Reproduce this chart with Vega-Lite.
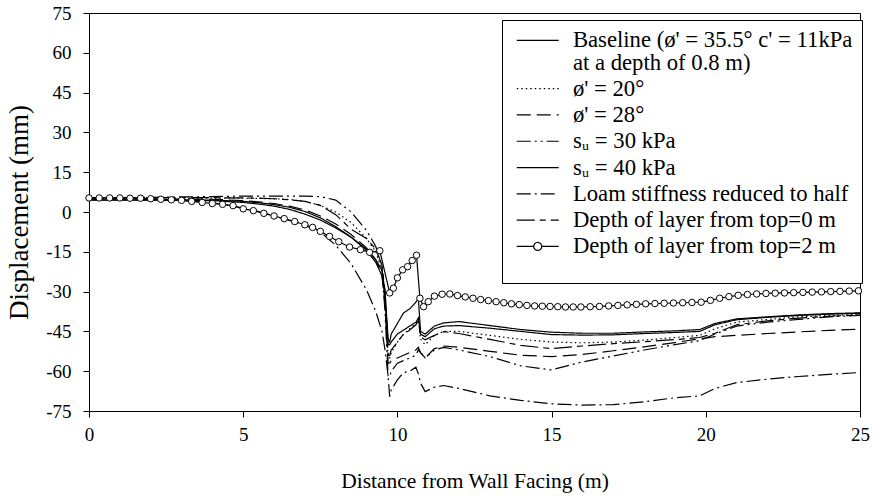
{
  "$schema": "https://vega.github.io/schema/vega-lite/v6.json",
  "width": 771,
  "height": 398,
  "autosize": "none",
  "padding": {"left": 89, "top": 13, "right": 14, "bottom": 85},
  "background": "white",
  "datasets": {
    "curves": [
      {"x": 0, "base": 4.5, "phi20": 5.2, "phi28": 5.0, "su30": 5.3, "su40": 4.6, "loam": 4.8, "d0": 5.3},
      {"x": 1, "base": 4.5, "phi20": 5.2, "phi28": 5.0, "su30": 5.4, "su40": 4.6, "loam": 4.8, "d0": 5.3},
      {"x": 2, "base": 4.5, "phi20": 5.2, "phi28": 5.0, "su30": 5.5, "su40": 4.6, "loam": 4.7, "d0": 5.4},
      {"x": 3, "base": 4.4, "phi20": 5.2, "phi28": 4.9, "su30": 5.7, "su40": 4.6, "loam": 4.4, "d0": 5.4},
      {"x": 4, "base": 4.3, "phi20": 5.2, "phi28": 4.8, "su30": 5.8, "su40": 4.5, "loam": 3.5, "d0": 5.4},
      {"x": 5, "base": 3.6, "phi20": 5.2, "phi28": 4.3, "su30": 6.0, "su40": 4.0, "loam": 1.5, "d0": 5.3},
      {"x": 5.5, "base": 3.0, "phi20": 5.1, "phi28": 3.8, "su30": 6.0, "su40": 3.5, "loam": 0.2, "d0": 5.2},
      {"x": 6, "base": 2.2, "phi20": 5.0, "phi28": 3.2, "su30": 6.0, "su40": 2.8, "loam": -1.5, "d0": 5.0},
      {"x": 6.5, "base": 1.0, "phi20": 4.7, "phi28": 2.2, "su30": 6.0, "su40": 1.8, "loam": -3.2, "d0": 4.6},
      {"x": 7, "base": -0.8, "phi20": 4.0, "phi28": 0.8, "su30": 6.0, "su40": 0.2, "loam": -5.0, "d0": 4.0},
      {"x": 7.5, "base": -3.0, "phi20": 2.5, "phi28": -1.5, "su30": 5.8, "su40": -2.2, "loam": -7.5, "d0": 2.5},
      {"x": 8, "base": -6.0, "phi20": 0.0, "phi28": -4.5, "su30": 4.5, "su40": -5.5, "loam": -12.5, "d0": -1.0},
      {"x": 8.5, "base": -9.5, "phi20": -4.0, "phi28": -8.5, "su30": 0.0, "su40": -9.5, "loam": -19.5, "d0": -6.5},
      {"x": 9, "base": -14.0, "phi20": -10.0, "phi28": -13.5, "su30": -7.0, "su40": -14.5, "loam": -29.4, "d0": -10.0},
      {"x": 9.3, "base": -18.0, "phi20": -15.0, "phi28": -18.0, "su30": -13.0, "su40": -19.0, "loam": -37.5, "d0": -14.0},
      {"x": 9.5, "base": -22.0, "phi20": -22.0, "phi28": -24.0, "su30": -21.0, "su40": -24.0, "loam": -45.0, "d0": -20.0},
      {"x": 9.6, "base": -30.0, "phi20": -35.0, "phi28": -35.0, "su30": -38.0, "su40": -32.0, "loam": -52.0, "d0": -30.0},
      {"x": 9.7, "base": -48.0, "phi20": -55.0, "phi28": -57.0, "su30": -62.0, "su40": -50.0, "loam": -62.0, "d0": -54.0},
      {"x": 9.75, "base": -49.0, "phi20": -55.0, "phi28": -57.0, "su30": -62.0, "su40": -50.0, "loam": -69.6, "d0": -54.0},
      {"x": 9.8, "base": -46.0, "phi20": -53.0, "phi28": -56.0, "su30": -60.0, "su40": -49.0, "loam": -67.0, "d0": -52.0},
      {"x": 10, "base": -42.0, "phi20": -49.0, "phi28": -55.0, "su30": -57.0, "su40": -46.0, "loam": -63.3, "d0": -49.0},
      {"x": 10.2, "base": -38.0, "phi20": -46.0, "phi28": -54.0, "su30": -56.0, "su40": -44.5, "loam": -60.5, "d0": -46.0},
      {"x": 10.4, "base": -36.5, "phi20": -44.0, "phi28": -53.0, "su30": -55.0, "su40": -43.0, "loam": -60.0, "d0": -44.5},
      {"x": 10.6, "base": -34.0, "phi20": -42.0, "phi28": -52.0, "su30": -54.0, "su40": -41.5, "loam": -58.5, "d0": -42.5},
      {"x": 10.68, "base": -32.5, "phi20": -40.0, "phi28": -51.0, "su30": -52.0, "su40": -40.0, "loam": -61.0, "d0": -41.0},
      {"x": 10.75, "base": -45.0, "phi20": -48.0, "phi28": -53.0, "su30": -53.0, "su40": -46.0, "loam": -64.5, "d0": -47.0},
      {"x": 10.9, "base": -46.0, "phi20": -50.0, "phi28": -55.0, "su30": -55.0, "su40": -47.0, "loam": -67.7, "d0": -48.2},
      {"x": 11.2, "base": -43.0, "phi20": -46.5, "phi28": -51.5, "su30": -52.0, "su40": -44.0, "loam": -66.0, "d0": -46.5},
      {"x": 11.5, "base": -41.8, "phi20": -45.0, "phi28": -50.5, "su30": -51.0, "su40": -43.0, "loam": -65.4, "d0": -45.1},
      {"x": 12, "base": -41.3, "phi20": -45.0, "phi28": -51.0, "su30": -52.0, "su40": -42.8, "loam": -66.5, "d0": -45.8},
      {"x": 13, "base": -42.8, "phi20": -46.5, "phi28": -52.5, "su30": -54.5, "su40": -43.8, "loam": -69.3, "d0": -48.0},
      {"x": 14, "base": -44.3, "phi20": -48.0, "phi28": -54.0, "su30": -58.0, "su40": -45.0, "loam": -71.0, "d0": -50.3},
      {"x": 15, "base": -45.3, "phi20": -49.0, "phi28": -54.5, "su30": -59.5, "su40": -46.2, "loam": -72.3, "d0": -51.5},
      {"x": 16, "base": -45.7, "phi20": -49.3, "phi28": -53.7, "su30": -56.5, "su40": -46.4, "loam": -72.8, "d0": -50.5},
      {"x": 17, "base": -45.7, "phi20": -49.0, "phi28": -52.3, "su30": -54.3, "su40": -46.3, "loam": -72.6, "d0": -49.6},
      {"x": 18, "base": -45.2, "phi20": -48.3, "phi28": -50.8, "su30": -52.0, "su40": -45.8, "loam": -71.5, "d0": -48.9},
      {"x": 19, "base": -44.8, "phi20": -47.3, "phi28": -49.2, "su30": -50.0, "su40": -45.4, "loam": -70.0, "d0": -48.1},
      {"x": 19.8, "base": -44.3, "phi20": -46.5, "phi28": -47.8, "su30": -48.5, "su40": -45.0, "loam": -69.3, "d0": -47.3},
      {"x": 20.3, "base": -42.0, "phi20": -44.0, "phi28": -47.0, "su30": -46.0, "su40": -42.5, "loam": -66.5, "d0": -45.7},
      {"x": 21, "base": -40.3, "phi20": -41.5, "phi28": -46.5, "su30": -43.0, "su40": -40.6, "loam": -64.3, "d0": -42.5},
      {"x": 22, "base": -39.5, "phi20": -40.5, "phi28": -45.8, "su30": -41.5, "su40": -39.7, "loam": -63.0, "d0": -41.0},
      {"x": 23, "base": -38.8, "phi20": -39.5, "phi28": -45.2, "su30": -40.5, "su40": -39.0, "loam": -62.0, "d0": -40.0},
      {"x": 24, "base": -38.3, "phi20": -39.0, "phi28": -44.6, "su30": -39.5, "su40": -38.5, "loam": -61.2, "d0": -39.3},
      {"x": 25, "base": -38.0, "phi20": -38.6, "phi28": -44.2, "su30": -39.0, "su40": -38.2, "loam": -60.5, "d0": -38.8}
    ],
    "depth2": [
      {"x": 0, "y": 5.3}, {"x": 0.33, "y": 5.3}, {"x": 0.67, "y": 5.3}, {"x": 1.0, "y": 5.3},
      {"x": 1.33, "y": 5.2}, {"x": 1.67, "y": 5.2}, {"x": 2.0, "y": 5.0}, {"x": 2.33, "y": 4.8},
      {"x": 2.67, "y": 4.6}, {"x": 3.0, "y": 4.4}, {"x": 3.33, "y": 4.0}, {"x": 3.67, "y": 3.6},
      {"x": 4.0, "y": 3.2}, {"x": 4.33, "y": 2.9}, {"x": 4.67, "y": 2.4}, {"x": 5.0, "y": 1.2},
      {"x": 5.33, "y": 0.5}, {"x": 5.67, "y": -0.5}, {"x": 6.0, "y": -1.5}, {"x": 6.33, "y": -2.5},
      {"x": 6.67, "y": -3.6}, {"x": 7.0, "y": -4.8}, {"x": 7.25, "y": -5.8}, {"x": 7.5, "y": -7.3},
      {"x": 7.8, "y": -9.2}, {"x": 8.1, "y": -11.2}, {"x": 8.45, "y": -13.2}, {"x": 8.8, "y": -14.2},
      {"x": 9.1, "y": -15.2}, {"x": 9.43, "y": -14.6}, {"x": 9.75, "y": -30.5}, {"x": 9.87, "y": -28.7},
      {"x": 10.0, "y": -24.8}, {"x": 10.17, "y": -21.8}, {"x": 10.33, "y": -20.6}, {"x": 10.48, "y": -18.3},
      {"x": 10.62, "y": -16.3}, {"x": 10.73, "y": -32.5}, {"x": 10.85, "y": -35.7}, {"x": 11.0, "y": -33.8},
      {"x": 11.2, "y": -31.7}, {"x": 11.45, "y": -31.0}, {"x": 11.7, "y": -30.9}, {"x": 11.95, "y": -31.5},
      {"x": 12.2, "y": -32.0}, {"x": 12.45, "y": -32.5}, {"x": 12.7, "y": -33.0}, {"x": 12.95, "y": -33.4},
      {"x": 13.2, "y": -33.8}, {"x": 13.45, "y": -34.2}, {"x": 13.7, "y": -34.6}, {"x": 13.95, "y": -34.9},
      {"x": 14.2, "y": -35.2}, {"x": 14.45, "y": -35.4}, {"x": 14.7, "y": -35.5}, {"x": 14.95, "y": -35.6},
      {"x": 15.2, "y": -35.7}, {"x": 15.45, "y": -35.8}, {"x": 15.7, "y": -35.8}, {"x": 15.95, "y": -35.8},
      {"x": 16.25, "y": -35.7}, {"x": 16.55, "y": -35.6}, {"x": 16.85, "y": -35.4}, {"x": 17.15, "y": -35.2},
      {"x": 17.45, "y": -35.0}, {"x": 17.75, "y": -34.8}, {"x": 18.05, "y": -34.6}, {"x": 18.35, "y": -34.5},
      {"x": 18.65, "y": -34.4}, {"x": 18.95, "y": -34.3}, {"x": 19.25, "y": -34.2}, {"x": 19.55, "y": -34.1},
      {"x": 19.85, "y": -34.0}, {"x": 20.15, "y": -33.3}, {"x": 20.45, "y": -32.5}, {"x": 20.75, "y": -31.9},
      {"x": 21.05, "y": -31.4}, {"x": 21.35, "y": -31.1}, {"x": 21.65, "y": -30.9}, {"x": 21.95, "y": -30.7},
      {"x": 22.25, "y": -30.6}, {"x": 22.55, "y": -30.5}, {"x": 22.85, "y": -30.4}, {"x": 23.15, "y": -30.3},
      {"x": 23.45, "y": -30.2}, {"x": 23.75, "y": -30.1}, {"x": 24.05, "y": -30.0}, {"x": 24.35, "y": -29.9},
      {"x": 24.65, "y": -29.8}, {"x": 24.95, "y": -29.7}
    ]
  },
  "encoding": {
    "x": {
      "field": "x", "type": "quantitative",
      "scale": {"domain": [0, 25], "nice": false, "zero": false},
      "axis": {"values": [0, 5, 10, 15, 20, 25], "title": "Distance from Wall Facing (m)", "titleFontSize": 21.5}
    },
    "y": {
      "field": "y", "type": "quantitative",
      "scale": {"domain": [-75, 75], "nice": false, "zero": false},
      "axis": {"values": [-75, -60, -45, -30, -15, 0, 15, 30, 45, 60, 75], "title": "Displacement (mm)", "titleFontSize": 27, "labelExpr": "toString(datum.value)"}
    }
  },
  "layer": [
    {
      "data": {"name": "curves"},
      "transform": [
        {"fold": ["base", "phi20", "phi28", "su30", "su40", "loam", "d0"], "as": ["case", "y"]}
      ],
      "mark": {"type": "line", "color": "black", "strokeWidth": 1.2},
      "encoding": {
        "strokeDash": {
          "field": "case",
          "type": "nominal",
          "scale": {
            "domain": ["base", "phi20", "phi28", "su30", "su40", "loam", "d0", "d2"],
            "range": [[1, 0], [1.5, 3], [14, 6], [14, 4, 2, 4, 2, 4], [1, 0], [14, 4, 2, 4], [18, 5, 6, 5], [1, 0]]
          },
          "legend": {
            "title": " ",
            "titleOrient": "bottom",
            "titleFontSize": 10,
            "titlePadding": 6,
            "orient": "none",
            "legendX": 413,
            "legendY": 7,
            "padding": 9,
            "strokeColor": "black",
            "fillColor": "white",
            "labelFont": "Liberation Serif",
            "labelFontSize": 22.7,
            "labelColor": "black",
            "labelLimit": 400,
            "symbolSize": 100,
            "symbolOffset": 15.4,
            "labelOffset": 23.8,
            "rowPadding": 2.3,
            "symbolStrokeWidth": 1.2,
            "symbolStrokeColor": "black",
            "labelExpr": "datum.value == 'base' ? [\"Baseline (ø' = 35.5° c' = 11kPa\", \"at a depth of 0.8 m)\"] : datum.value == 'phi20' ? \"ø' = 20°\" : datum.value == 'phi28' ? \"ø' = 28°\" : datum.value == 'su30' ? 'sᵤ = 30 kPa' : datum.value == 'su40' ? 'sᵤ = 40 kPa' : datum.value == 'loam' ? 'Loam stiffness reduced to half' : datum.value == 'd0' ? 'Depth of layer from top=0 m' : 'Depth of layer from top=2 m'",
            "encode": {
              "labels": {
                "update": {"lineHeight": {"value": 22.7}}
              },
              "symbols": {
                "update": {
                  "shape": {"signal": "datum.value == 'd2' ? 'M-4.2,0H-0.8M0.8,0H4.2M-0.8,0A0.8,0.8 0 1,0 0.8,0A0.8,0.8 0 1,0 -0.8,0' : 'M-4.2,0H4.2'"},
                  "fill": {"value": "white"},
                  "stroke": {"value": "black"}
                }
              }
            }
          }
        }
      }
    },
    {
      "data": {"name": "depth2"},
      "mark": {"type": "line", "color": "black", "strokeWidth": 1.2}
    },
    {
      "data": {"name": "depth2"},
      "mark": {"type": "point", "shape": "circle", "filled": true, "fill": "white", "stroke": "black", "strokeWidth": 1, "size": 42, "opacity": 1}
    }
  ],
  "config": {
    "view": {"stroke": "black", "strokeWidth": 1},
    "axis": {
      "grid": false,
      "domainColor": "black",
      "tickColor": "black",
      "tickSize": 6,
      "labelFont": "Liberation Serif",
      "labelFontSize": 19,
      "labelColor": "black",
      "labelPadding": 12,
      "labelOverlap": false,
      "labelFlush": false,
      "titleFont": "Liberation Serif",
      "titleFontWeight": "normal",
      "titleColor": "black"
    },
    "axisX": {"titlePadding": 26, "labelPadding": 8},
    "axisY": {"titlePadding": 12}
  }
}
